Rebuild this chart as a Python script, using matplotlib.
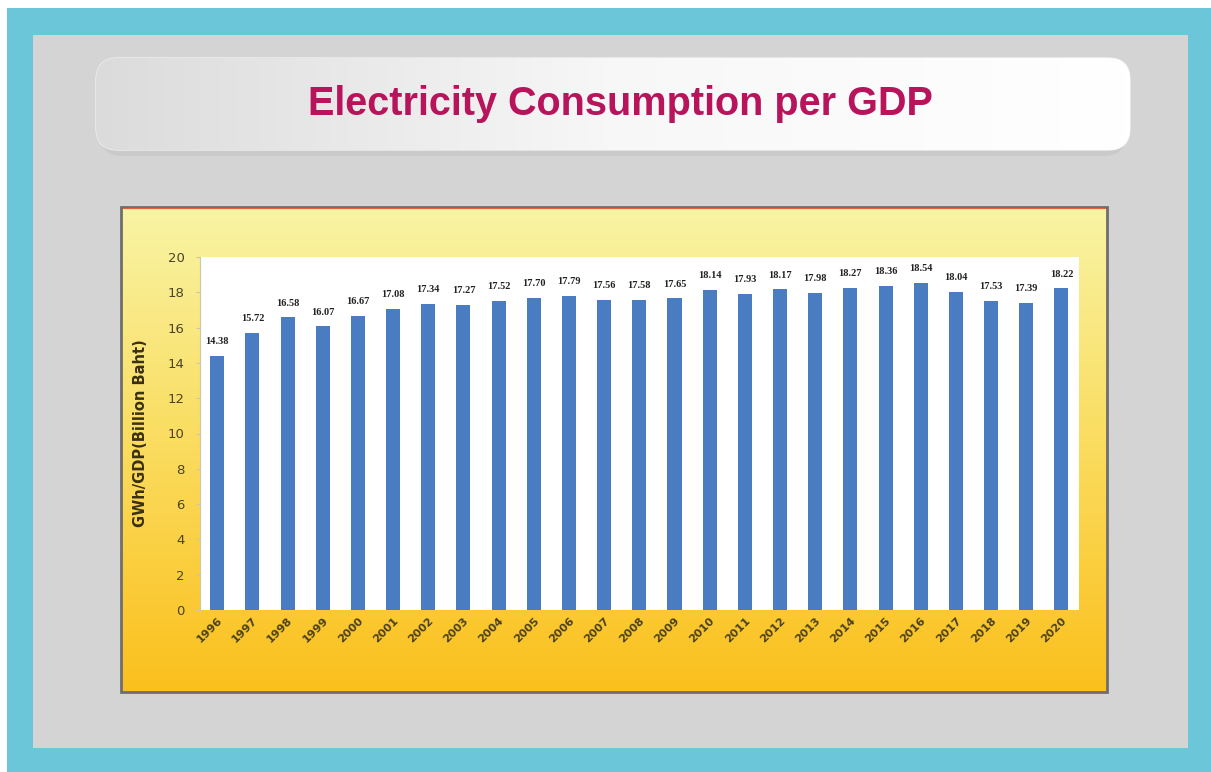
import numpy as np
import matplotlib
matplotlib.use("Agg")
import matplotlib.pyplot as plt
from matplotlib.patches import Rectangle, FancyBboxPatch

years = [str(y) for y in range(1996, 2021)]
values = [14.38, 15.72, 16.58, 16.07, 16.67, 17.08, 17.34, 17.27, 17.52, 17.70,
          17.79, 17.56, 17.58, 17.65, 18.14, 17.93, 18.17, 17.98, 18.27, 18.36,
          18.54, 18.04, 17.53, 17.39, 18.22]
yticks = list(range(0, 21, 2))
title = "Electricity Consumption per GDP"
ylabel = "GWh/GDP(Billion Baht)"

W, H = 1211, 772
fig = plt.figure(figsize=(W / 100, H / 100), dpi=100)
fig.patch.set_facecolor("white")

bg = fig.add_axes([0, 0, 1, 1])
bg.set_xlim(0, W)
bg.set_ylim(H, 0)
bg.axis("off")

# outer teal frame and gray panel
bg.add_patch(Rectangle((7, 8), W - 7, H - 8, facecolor="#6cc6d9", edgecolor="none"))
bg.add_patch(Rectangle((33, 35), 1188 - 33, 748 - 35, facecolor="#d4d4d4", edgecolor="none"))

# title box shadow + box with gradient
bg.add_patch(FancyBboxPatch((100, 64), 1026, 92, boxstyle="round,pad=0,rounding_size=22",
                            facecolor="#c4c4c4", edgecolor="none", alpha=0.6))
grad = np.linspace(0, 1, 256).reshape(1, -1)
tb = FancyBboxPatch((96, 58), 1034, 92, boxstyle="round,pad=0,rounding_size=22",
                    facecolor="none", edgecolor="#f0f0f0", linewidth=1)
bg.add_patch(tb)
img = bg.imshow(np.dstack([np.interp(grad, [0, 0.5, 1], [0.86, 0.97, 1.0])] * 3),
                extent=(96, 1130, 150, 58), aspect="auto", zorder=1)
img.set_clip_path(tb)
bg.text(620, 104, title, ha="center", va="center", color="#b8145c",
        fontsize=28.5, fontweight="bold", family="Liberation Sans", zorder=3)

# chart box gradient
top = np.array([248, 244, 165]) / 255
mid = np.array([250, 222, 100]) / 255
bot = np.array([251, 192, 28]) / 255
rows = []
for v in np.linspace(0, 1, 256):
    if v < 0.45:
        c = top + (mid - top) * (v / 0.45)
    else:
        c = mid + (bot - mid) * ((v - 0.45) / 0.55)
    rows.append(c)
gimg = np.array(rows).reshape(256, 1, 3)
bg.imshow(gimg, extent=(121, 1107, 692, 207), aspect="auto", zorder=1)
bg.add_patch(Rectangle((121, 207), 986, 485, facecolor="none", edgecolor="#6e6e6e", linewidth=2, zorder=2))
bg.plot([123, 1105], [208, 208], color="#e8603a", linewidth=0.8, zorder=2)

# plot axes
ax = fig.add_axes([200 / W, (H - 610) / H, 879 / W, 353 / H])
ax.set_facecolor("white")
x = np.arange(len(years))
ax.bar(x, values, width=0.4, color="#4a7cc2", zorder=2)
ax.set_xlim(-0.49, 24.5)
ax.set_ylim(0, 20)
ax.set_yticks(yticks)
ax.set_yticklabels([str(v) for v in yticks], fontsize=9.5, color="#4a4326")
ax.set_xticks(x)
ax.set_xticklabels(years, rotation=45, ha="right", rotation_mode="anchor",
                   fontsize=8, fontweight="bold", color="#4a4020")
for s in ["top", "right", "bottom"]:
    ax.spines[s].set_visible(False)
ax.spines["left"].set_color("#c8c8b0")
ax.tick_params(axis="y", length=3, color="#c8c8b0", pad=8)
ax.tick_params(axis="x", length=0, pad=4)
for xi, v in zip(x, values):
    ax.text(xi, v + 0.55, f"{v:.2f}", ha="center", va="bottom", fontsize=7.5,
            fontweight="bold", family="Liberation Serif", color="#222222")
ax.set_ylabel(ylabel, fontsize=10.5, fontweight="bold", color="#3a3010", labelpad=14)

fig.savefig("out.png", dpi=100)
